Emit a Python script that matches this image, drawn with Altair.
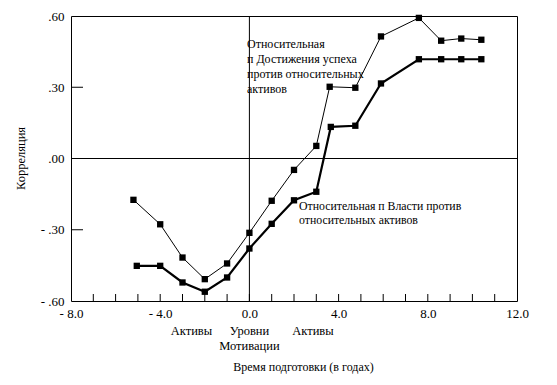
import altair as alt
import pandas as pd

FONT = "Liberation Serif"

# Series: relative need for Achievement vs relative assets (thin line)
x_ach = [-5.2, -4.0, -3.0, -2.0, -1.0, 0.0, 1.0, 2.0, 3.0, 3.6, 4.75, 5.9, 7.6, 8.6, 9.5, 10.4]
y_ach = [-0.174, -0.277, -0.417, -0.508, -0.442, -0.313, -0.178, -0.048, 0.053, 0.302, 0.298, 0.514, 0.592, 0.496, 0.505, 0.500]

# Series: relative need for Power vs relative assets (thick line)
x_pow = [-5.05, -4.0, -3.0, -2.0, -1.0, 0.0, 1.0, 2.0, 3.0, 3.65, 4.75, 5.9, 7.6, 8.6, 9.5, 10.4]
y_pow = [-0.452, -0.452, -0.522, -0.561, -0.501, -0.379, -0.275, -0.176, -0.140, 0.133, 0.138, 0.316, 0.418, 0.418, 0.418, 0.418]

# Axes
x_tick_values = [-8, -4, 0, 4, 8, 12]
x_tick_labels = ["- 8.0", "- 4.0", "0.0", "4.0", "8.0", "12.0"]
x_minor_ticks = [-7, -6, -5, -4, -3, -2, -1, 0, 1, 2, 3, 4, 5, 6, 7, 8, 9, 10, 11]
y_tick_values = [-0.6, -0.3, 0.0, 0.3, 0.6]
y_tick_labels = ["- .60", "- .30", ".00", ".30", ".60"]
y_minor_ticks = [-0.3, 0.3]

x_title = "Время подготовки (в годах)"
y_title = "Корреляция"

ann_ach = ["Относительная", "\u00a0п Достижения успеха", "\u00a0против относительных", "активов"]
ann_pow = ["Относительная п Власти против", "относительных активов"]

cat_labels = [["Активы"], ["Уровни", "Мотивации"], ["Активы"]]
cat_pos = [-2.6, 0.0, 2.85]

W, H = 446, 285


def label_expr(vals, labels):
    v = ",".join(repr(float(a)) for a in vals)
    l = ",".join("'" + s + "'" for s in labels)
    return f"[{l}][indexof([{v}], datum.value)]"


x_scale = alt.Scale(domain=[-8, 12], nice=False, zero=False)
y_scale = alt.Scale(domain=[-0.6, 0.6], nice=False, zero=False)

x_axis = alt.Axis(
    values=x_tick_values, labelExpr=label_expr(x_tick_values, x_tick_labels),
    ticks=False, domain=False, grid=False, labelPadding=6, labelFlush=False,
    labelFont=FONT, labelFontSize=13, labelColor="black",
    title=x_title, titleFont=FONT, titleFontSize=12, titleFontWeight="normal",
    titleColor="black", titleX=232, titleY=69, titleBaseline="alphabetic",
    titleAlign="center",
)
y_axis = alt.Axis(
    values=y_tick_values, labelExpr=label_expr(y_tick_values, y_tick_labels),
    ticks=False, domain=False, grid=False, labelPadding=7, labelFlush=False,
    labelFont=FONT, labelFontSize=13, labelColor="black",
    title=y_title, titleFont=FONT, titleFontSize=12.5, titleFontWeight="normal",
    titleColor="black", titleX=-47, titleY=142, titleBaseline="alphabetic",
    titleAlign="center", titleAngle=270,
)

X = alt.X("x:Q", scale=x_scale, axis=x_axis)
Y = alt.Y("y:Q", scale=y_scale, axis=y_axis)

df_ach = pd.DataFrame({"x": x_ach, "y": y_ach})
df_pow = pd.DataFrame({"x": x_pow, "y": y_pow})

line_ach = alt.Chart(df_ach).mark_line(color="black", strokeWidth=1).encode(x=X, y=Y)
pts_ach = alt.Chart(df_ach).mark_square(color="black", size=40, opacity=1).encode(x=X, y=Y)
line_pow = alt.Chart(df_pow).mark_line(color="black", strokeWidth=2.2).encode(x=X, y=Y)
pts_pow = alt.Chart(df_pow).mark_square(color="black", size=40, opacity=1).encode(x=X, y=Y)

one = pd.DataFrame({"k": [0]})
zero_v = alt.Chart(one).mark_rule(color="black", strokeWidth=1).encode(x=alt.datum(0, scale=x_scale))
zero_h = alt.Chart(one).mark_rule(color="black", strokeWidth=1).encode(y=alt.datum(0, scale=y_scale))

xt = alt.Chart(pd.DataFrame({"x": x_minor_ticks})).mark_rule(color="black", strokeWidth=1).encode(
    x=X, y=alt.value(H), y2=alt.value(H - 7))
yt = alt.Chart(pd.DataFrame({"y": y_minor_ticks})).mark_rule(color="black", strokeWidth=1).encode(
    y=Y, x=alt.value(0), x2=alt.value(12))

txt = dict(font=FONT, color="black", baseline="alphabetic")
a1 = alt.Chart(one).mark_text(align="left", lineHeight=15, fontSize=12, **txt).encode(
    x=alt.value(176), y=alt.value(32), text=alt.value(ann_ach))
a2 = alt.Chart(one).mark_text(align="left", lineHeight=14, fontSize=11.8, **txt).encode(
    x=alt.value(228), y=alt.value(194), text=alt.value(ann_pow))

cats = []
for lab, pos in zip(cat_labels, cat_pos):
    cats.append(alt.Chart(one).mark_text(align="center", lineHeight=14.5, fontSize=12.5, **txt).encode(
        x=alt.datum(pos, scale=x_scale), y=alt.value(H + 34), text=alt.value(lab)))

chart = alt.layer(
    zero_v, zero_h, xt, yt, line_ach, line_pow, pts_ach, pts_pow, a1, a2, *cats
).properties(
    width=W, height=H,
    autosize=alt.AutoSizeParams(type="none"),
    padding={"left": 63, "top": 8, "right": 32, "bottom": 76},
    background="white",
).configure_view(stroke="black", strokeWidth=1)

chart.save("out.html", embed_options={"renderer": "svg", "actions": False})
